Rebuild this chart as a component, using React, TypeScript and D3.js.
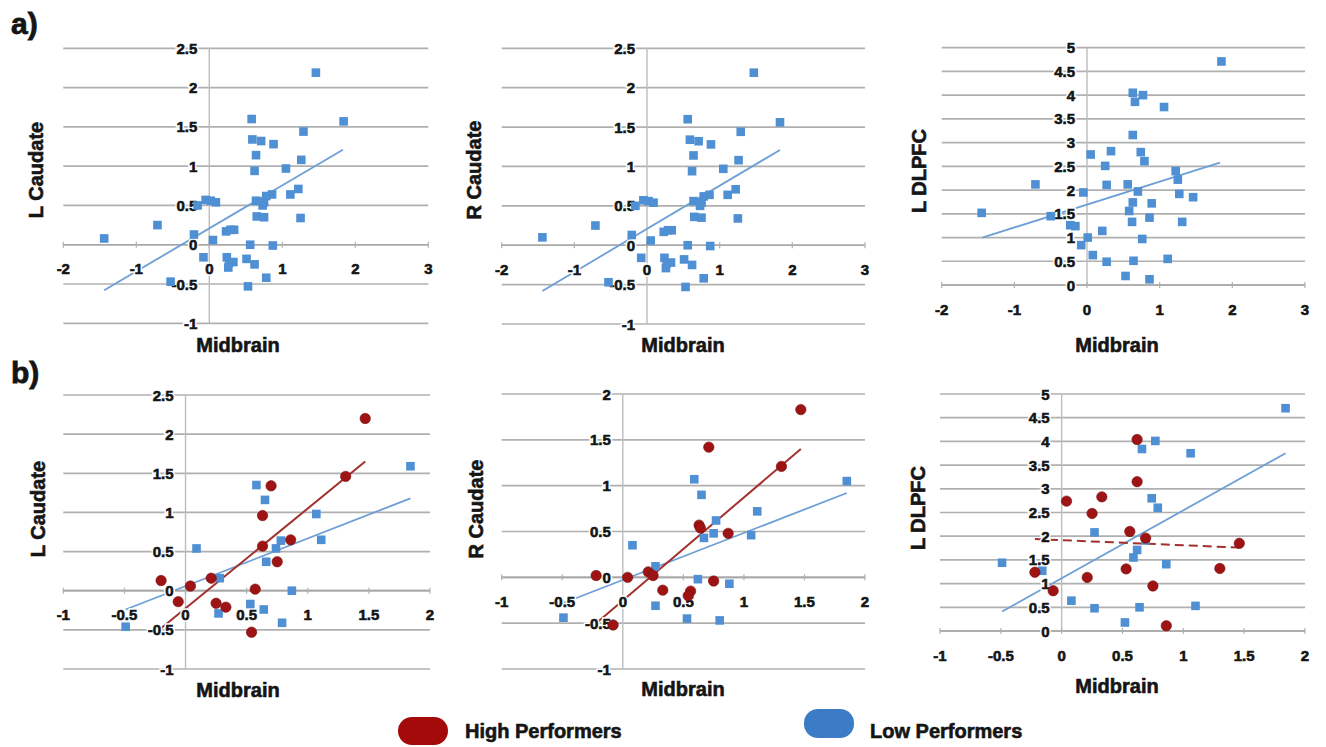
import React from 'react';
import * as d3 from 'd3';

type Pt = [number, number];

// ---------- data ----------
const aLCaudateAll: Pt[] = [
  [1.46, 2.19], [1.84, 1.57], [0.58, 1.6], [1.29, 1.44], [0.59, 1.34], [0.71, 1.32], [0.88, 1.28],
  [0.64, 1.14], [1.26, 1.08], [1.05, 0.97], [0.62, 0.94], [1.22, 0.71], [1.11, 0.64], [0.86, 0.64],
  [0.78, 0.62], [0.64, 0.56], [0.75, 0.54], [0.73, 0.5], [0.65, 0.36], [0.75, 0.35], [1.25, 0.34],
  [-0.16, 0.5], [-0.05, 0.57], [0.02, 0.56], [0.09, 0.54], [-0.71, 0.25], [-1.44, 0.08], [-0.21, 0.13],
  [0.05, 0.06], [0.23, 0.17], [0.29, 0.19], [0.34, 0.19], [0.56, 0.0], [0.87, -0.01], [-0.08, -0.16],
  [0.24, -0.16], [0.27, -0.23], [0.33, -0.22], [0.26, -0.29], [0.51, -0.18], [0.62, -0.25],
  [0.78, -0.42], [0.53, -0.53], [-0.53, -0.47],
];
const aRCaudateAll: Pt[] = [
  [1.47, 2.19], [1.83, 1.56], [0.56, 1.6], [1.29, 1.44], [0.59, 1.34], [0.71, 1.32], [0.88, 1.28],
  [0.64, 1.14], [1.26, 1.08], [1.05, 0.97], [0.62, 0.94], [1.22, 0.71], [1.11, 0.64], [0.86, 0.64],
  [0.78, 0.62], [0.64, 0.56], [0.75, 0.54], [0.73, 0.5], [0.65, 0.36], [0.75, 0.35], [1.25, 0.34],
  [-0.16, 0.5], [-0.05, 0.57], [0.02, 0.56], [0.09, 0.54], [-0.71, 0.25], [-1.44, 0.1], [-0.21, 0.13],
  [0.05, 0.06], [0.23, 0.17], [0.29, 0.19], [0.34, 0.19], [0.56, 0.0], [0.87, -0.01], [-0.08, -0.16],
  [0.24, -0.16], [0.27, -0.23], [0.33, -0.22], [0.26, -0.29], [0.51, -0.18], [0.62, -0.25],
  [0.78, -0.42], [0.53, -0.53], [-0.53, -0.47],
];
const aDlpfcAll: Pt[] = [
  [1.85, 4.71], [0.63, 4.05], [0.77, 4.0], [0.66, 3.86], [1.06, 3.75], [0.63, 3.16], [0.05, 2.75],
  [0.33, 2.82], [0.74, 2.8], [0.79, 2.61], [0.25, 2.51], [1.22, 2.4], [1.25, 2.22], [-0.71, 2.12],
  [0.27, 2.11], [0.56, 2.12], [0.7, 1.97], [-0.05, 1.95], [1.27, 1.92], [1.46, 1.85], [0.63, 1.74],
  [0.89, 1.72], [0.58, 1.56], [-1.45, 1.52], [-0.5, 1.45], [0.86, 1.42], [0.62, 1.33], [1.31, 1.33],
  [-0.23, 1.26], [-0.16, 1.24], [0.21, 1.14], [0.01, 1.0], [-0.08, 0.84], [0.76, 0.97], [0.08, 0.63],
  [0.27, 0.49], [0.64, 0.51], [1.11, 0.55], [0.53, 0.19], [0.86, 0.12],
];

const bLCaudateHigh: Pt[] = [
  [1.47, 2.2], [1.31, 1.46], [0.7, 1.34], [0.63, 0.96], [0.86, 0.65], [0.63, 0.57], [0.75, 0.37],
  [-0.2, 0.13], [0.04, 0.06], [0.21, 0.16], [0.57, 0.02], [-0.06, -0.14], [0.25, -0.16], [0.33, -0.21],
  [0.54, -0.53],
];
const bLCaudateLow: Pt[] = [
  [1.84, 1.59], [0.58, 1.35], [0.65, 1.16], [1.07, 0.98], [1.11, 0.65], [0.78, 0.64], [0.74, 0.54],
  [0.66, 0.37], [0.09, 0.54], [0.28, 0.16], [0.87, 0.0], [0.53, -0.17], [0.64, -0.24], [0.27, -0.29],
  [0.79, -0.41], [-0.49, -0.46],
];
const bRCaudateHigh: Pt[] = [
  [1.47, 1.83], [0.71, 1.42], [1.31, 1.21], [0.63, 0.57], [0.64, 0.54], [0.87, 0.48], [-0.22, 0.02],
  [0.04, 0.0], [0.21, 0.06], [0.25, 0.02], [0.75, -0.04], [0.33, -0.14], [0.56, -0.15], [0.54, -0.2],
  [-0.08, -0.52],
];
const bRCaudateLow: Pt[] = [
  [1.85, 1.05], [0.59, 1.07], [0.65, 0.9], [1.11, 0.72], [0.77, 0.62], [0.75, 0.48], [0.67, 0.43],
  [1.06, 0.46], [0.08, 0.35], [0.27, 0.12], [0.62, -0.02], [0.88, -0.07], [0.27, -0.31], [0.53, -0.45],
  [0.8, -0.47], [-0.49, -0.44],
];
const bDlpfcHigh: Pt[] = [
  [0.62, 4.04], [0.62, 3.15], [0.04, 2.74], [0.33, 2.83], [0.25, 2.48], [0.56, 2.1], [0.69, 1.96],
  [1.46, 1.85], [0.53, 1.31], [1.3, 1.32], [-0.22, 1.24], [0.21, 1.13], [0.75, 0.95], [-0.07, 0.85],
  [0.86, 0.11],
];
const bDlpfcLow: Pt[] = [
  [1.84, 4.7], [0.77, 4.01], [0.66, 3.84], [1.06, 3.75], [0.74, 2.8], [0.79, 2.6], [0.27, 2.08],
  [0.69, 1.91], [0.62, 1.71], [0.59, 1.55], [0.86, 1.41], [-0.49, 1.44], [-0.16, 1.27], [0.08, 0.64],
  [0.27, 0.48], [0.64, 0.5], [1.1, 0.53], [0.52, 0.18],
];

// trend line end points
const trendALCaudate: Pt[] = [[-1.44, -0.58], [1.83, 1.21]];
const trendARCaudate: Pt[] = [[-1.44, -0.58], [1.83, 1.21]];
const trendADlpfc: Pt[] = [[-1.44, 1.0], [1.83, 2.58]];
const trendBLCaudateHigh: Pt[] = [[-0.2, -0.48], [1.47, 1.65]];
const trendBLCaudateLow: Pt[] = [[-0.49, -0.24], [1.84, 1.18]];
const trendBRCaudateHigh: Pt[] = [[-0.22, -0.5], [1.47, 1.4]];
const trendBRCaudateLow: Pt[] = [[-0.49, -0.28], [1.85, 0.92]];
const trendBDlpfcHigh: Pt[] = [[-0.22, 1.94], [1.46, 1.76]];
const trendBDlpfcLow: Pt[] = [[-0.49, 0.41], [1.84, 3.75]];

const xTicksA = [-2, -1, 0, 1, 2, 3];
const xTicksB = [-1, -0.5, 0, 0.5, 1, 1.5, 2];
const yTicksCaudate = [-1, -0.5, 0, 0.5, 1, 1.5, 2, 2.5];
const yTicksRCaudateB = [-1, -0.5, 0, 0.5, 1, 1.5, 2];
const yTicksDlpfc = [0, 0.5, 1, 1.5, 2, 2.5, 3, 3.5, 4, 4.5, 5];
const yTitles = ['L Caudate', 'R Caudate', 'L DLPFC'];
const xTitle = 'Midbrain';
const rowLabels = ['a)', 'b)'];
const legendLabels = ['High Performers', 'Low Performers'];

// ---------- styles ----------
const BLUE = '#4f8fd3';
const BLUE_LINE = '#6d9fd6';
const RED = '#9e1414';
const RED_LINE = '#a2302e';
const GRID = '#b0b0b0';
const INK = '#151515';
const FONT = '"Liberation Sans", Arial, sans-serif';

type Series = { pts: Pt[]; kind: 'high' | 'low' };
type Trend = { pts: Pt[]; kind: 'high' | 'low'; dashed?: boolean };
type PanelCfg = {
  px: [number, number];
  py: [number, number];
  xd: [number, number];
  yd: [number, number];
  xTicks: number[];
  yTicks: number[];
  yTitle: string;
  yTitlePos: [number, number];
  xTitlePos: [number, number];
  series: Series[];
  trends: Trend[];
};

const panels: PanelCfg[] = [
  {
    px: [63.3, 428.3], py: [323.3, 48.3], xd: [-2, 3], yd: [-1, 2.5], xTicks: xTicksA, yTicks: yTicksCaudate,
    yTitle: yTitles[0], yTitlePos: [36, 170], xTitlePos: [238, 345],
    series: [{ pts: aLCaudateAll, kind: 'low' }], trends: [{ pts: trendALCaudate, kind: 'low' }],
  },
  {
    px: [501.7, 865], py: [324, 48.3], xd: [-2, 3], yd: [-1, 2.5], xTicks: xTicksA, yTicks: yTicksCaudate,
    yTitle: yTitles[1], yTitlePos: [474, 170], xTitlePos: [683, 345],
    series: [{ pts: aRCaudateAll, kind: 'low' }], trends: [{ pts: trendARCaudate, kind: 'low' }],
  },
  {
    px: [941.7, 1305], py: [285, 47.7], xd: [-2, 3], yd: [0, 5], xTicks: xTicksA, yTicks: yTicksDlpfc,
    yTitle: yTitles[2], yTitlePos: [919, 171], xTitlePos: [1117, 345],
    series: [{ pts: aDlpfcAll, kind: 'low' }], trends: [{ pts: trendADlpfc, kind: 'low' }],
  },
  {
    px: [63.3, 430], py: [669, 395], xd: [-1, 2], yd: [-1, 2.5], xTicks: xTicksB, yTicks: yTicksCaudate,
    yTitle: yTitles[0], yTitlePos: [38, 509], xTitlePos: [238, 690],
    series: [{ pts: bLCaudateLow, kind: 'low' }, { pts: bLCaudateHigh, kind: 'high' }],
    trends: [{ pts: trendBLCaudateLow, kind: 'low' }, { pts: trendBLCaudateHigh, kind: 'high' }],
  },
  {
    px: [501.7, 865], py: [669, 394], xd: [-1, 2], yd: [-1, 2], xTicks: xTicksB, yTicks: yTicksRCaudateB,
    yTitle: yTitles[1], yTitlePos: [476, 509], xTitlePos: [683, 689],
    series: [{ pts: bRCaudateLow, kind: 'low' }, { pts: bRCaudateHigh, kind: 'high' }],
    trends: [{ pts: trendBRCaudateLow, kind: 'low' }, { pts: trendBRCaudateHigh, kind: 'high' }],
  },
  {
    px: [940, 1305], py: [631, 394], xd: [-1, 2], yd: [0, 5], xTicks: xTicksB, yTicks: yTicksDlpfc,
    yTitle: yTitles[2], yTitlePos: [918, 508], xTitlePos: [1117, 686],
    series: [{ pts: bDlpfcLow, kind: 'low' }, { pts: bDlpfcHigh, kind: 'high' }],
    trends: [{ pts: trendBDlpfcLow, kind: 'low' }, { pts: trendBDlpfcHigh, kind: 'high', dashed: true }],
  },
];

function TickLabel({ x, y, anchor, text }: { x: number; y: number; anchor: 'end' | 'middle'; text: string }) {
  return (
    <g>
      <text x={x} y={y} textAnchor={anchor} dominantBaseline="central" stroke="#fff" strokeWidth={3.5} fill="#fff">
        {text}
      </text>
      <text x={x} y={y} textAnchor={anchor} dominantBaseline="central" stroke={INK} strokeWidth={0.6} fill={INK}>
        {text}
      </text>
    </g>
  );
}

function Panel({ cfg }: { cfg: PanelCfg }) {
  const x = d3.scaleLinear().domain(cfg.xd).range(cfg.px);
  const y = d3.scaleLinear().domain(cfg.yd).range(cfg.py);
  const line = d3.line<Pt>().x((d) => x(d[0])).y((d) => y(d[1]));
  const x0 = x(0);
  const y0 = y(0);
  const fmt = (v: number) => String(v);
  return (
    <g>
      {cfg.yTicks.map((t) => (
        <line key={'g' + t} x1={cfg.px[0]} x2={cfg.px[1]} y1={y(t)} y2={y(t)} stroke={GRID} strokeWidth={1.7} />
      ))}
      <line x1={x0} x2={x0} y1={cfg.py[0]} y2={cfg.py[1]} stroke="#bdbdbd" strokeWidth={1.4} />
      <line x1={cfg.px[0]} x2={cfg.px[1]} y1={y0} y2={y0} stroke="#a8a8a8" strokeWidth={1.7} />
      {cfg.xTicks.map((t) => (
        <line key={'t' + t} x1={x(t)} x2={x(t)} y1={y0 - 3} y2={y0 + 3} stroke="#b0b0b0" strokeWidth={1.2} />
      ))}
      {cfg.trends.map((tr, i) => (
        <path
          key={'tr' + i}
          d={line(tr.pts) || ''}
          fill="none"
          stroke={tr.kind === 'high' ? RED_LINE : BLUE_LINE}
          strokeWidth={tr.kind === 'high' ? 2 : 1.8}
          strokeDasharray={tr.dashed ? '9 5' : undefined}
        />
      ))}
      <g fontFamily={FONT} fontWeight="bold" fontSize={15}>
        {cfg.yTicks.map((t) => (
          <TickLabel key={'yl' + t} x={x0 - 12} y={y(t)} anchor="end" text={fmt(t)} />
        ))}
        {cfg.xTicks.map((t) => (
          <TickLabel key={'xl' + t} x={x(t)} y={y0 + 24} anchor="middle" text={fmt(t)} />
        ))}
      </g>
      {cfg.series.map((s, si) =>
        s.pts.map((p, i) =>
          s.kind === 'low' ? (
            <rect key={si + '-' + i} x={x(p[0]) - 4.3} y={y(p[1]) - 4.3} width={8.6} height={8.6} fill={BLUE} />
          ) : (
            <circle key={si + '-' + i} cx={x(p[0])} cy={y(p[1])} r={5.2} fill={RED} stroke="#7a0c0c" strokeWidth={0.6} />
          )
        )
      )}
      <text
        x={cfg.yTitlePos[0]}
        y={cfg.yTitlePos[1]}
        transform={`rotate(-90 ${cfg.yTitlePos[0]} ${cfg.yTitlePos[1]})`}
        textAnchor="middle"
        dominantBaseline="central"
        fontFamily={FONT}
        fontWeight="bold"
        fontSize={20}
        fill={INK}
        stroke={INK}
        strokeWidth={0.6}
      >
        {cfg.yTitle}
      </text>
      <text
        x={cfg.xTitlePos[0]}
        y={cfg.xTitlePos[1]}
        textAnchor="middle"
        dominantBaseline="central"
        fontFamily={FONT}
        fontWeight="bold"
        fontSize={20}
        fill={INK}
        stroke={INK}
        strokeWidth={0.6}
      >
        {xTitle}
      </text>
    </g>
  );
}

export default function App() {
  return (
    <svg
      width={1326}
      height={747}
      viewBox="0 0 1326 747"
      style={{ position: 'absolute', left: 0, top: 0, background: '#fff' }}
    >
      <rect x={0} y={0} width={1326} height={747} fill="#fff" />
      <g fontFamily={FONT} fontWeight="bold" fontSize={30} fill={INK} stroke={INK} strokeWidth={0.8}>
        <text x={11} y={34}>{rowLabels[0]}</text>
        <text x={11} y={383}>{rowLabels[1]}</text>
      </g>
      {panels.map((p, i) => (
        <Panel key={i} cfg={p} />
      ))}
      <rect x={398} y={717} width={50} height={28} rx={14} fill="#a40a0a" />
      <rect x={804} y={709} width={50} height={29} rx={14} fill="#3c7cc6" />
      <g fontFamily={FONT} fontWeight="bold" fontSize={20} fill={INK} stroke={INK} strokeWidth={0.6}>
        <text x={465} y={731} dominantBaseline="central">{legendLabels[0]}</text>
        <text x={870} y={731} dominantBaseline="central">{legendLabels[1]}</text>
      </g>
    </svg>
  );
}
